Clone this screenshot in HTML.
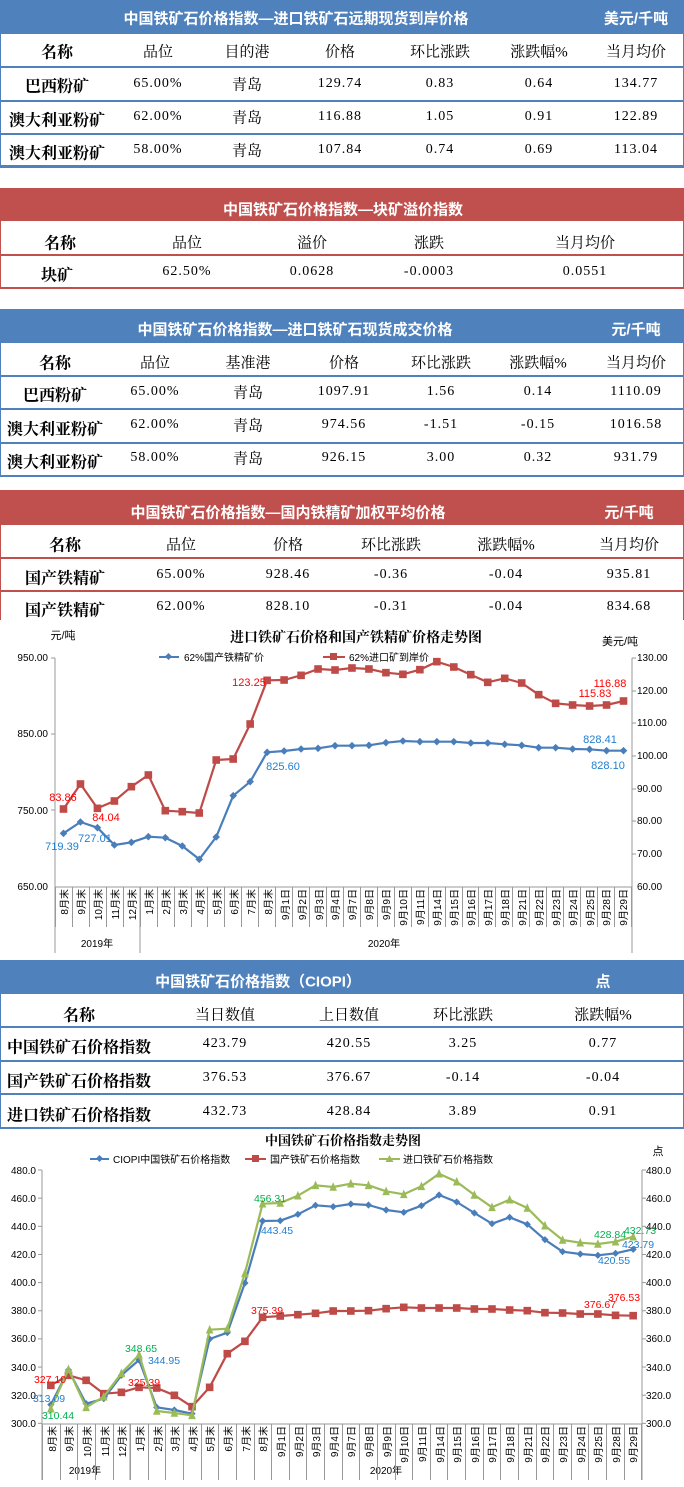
<!DOCTYPE html>
<html><head><meta charset="utf-8">
<style>
*{margin:0;padding:0;box-sizing:border-box}
body{width:684px;height:1487px;position:relative;background:#fff;overflow:hidden;font-family:"Liberation Serif","Noto Serif CJK SC",serif;color:#000}
.a{position:absolute}
.bar{position:absolute;left:0;width:684px}
.blue{background:#4f81bd}.red{background:#c0504d}
.t{position:absolute;transform:translate(-50%,-50%);white-space:nowrap;font-size:15px}
.w{color:#fff;font-weight:bold;font-family:"Liberation Sans","Noto Sans CJK SC",sans-serif;font-size:15px}
.n{font-weight:bold;font-family:"Liberation Serif","Noto Serif CJK SC",serif;font-size:16px}
.h{font-family:"Liberation Serif","Noto Serif CJK SC",serif;font-size:15px}
.d{font-family:"Liberation Serif","Noto Serif CJK SC",serif;font-size:14px;letter-spacing:1px}
.hl{position:absolute;left:0;width:684px}
.vl{position:absolute;width:1px}
.cats{position:absolute;display:flex}
.cats div{flex:1;border-right:1px solid #999;display:flex;justify-content:center;align-items:flex-start}
.cats div:first-child{border-left:1px solid #999}
.cats span{writing-mode:vertical-rl;text-orientation:sideways;transform:rotate(180deg);font-family:"Liberation Sans","Noto Sans CJK SC",sans-serif;font-size:10px;color:#000;padding-bottom:2px}
svg text{font-family:"Liberation Sans","Noto Sans CJK SC",sans-serif}
</style></head><body>

<!-- Table 1 -->
<div class="bar blue" style="top:0;height:34px"></div>
<span class="t w" style="left:296px;top:18px">中国铁矿石价格指数—进口铁矿石远期现货到岸价格</span>
<span class="t w" style="left:636px;top:18px">美元/千吨</span>
<div class="vl" style="left:0;top:34px;height:133px;background:#4f81bd"></div>
<div class="vl" style="left:683px;top:34px;height:133px;background:#4f81bd"></div>
<div class="hl" style="top:66px;height:2px;background:#4f81bd"></div>
<div class="hl" style="top:100px;height:2px;background:#4f81bd"></div>
<div class="hl" style="top:133px;height:2px;background:#4f81bd"></div>
<div class="hl" style="top:165px;height:3px;background:#4f81bd"></div>
<span class="t n" style="left:57px;top:51px">名称</span><span class="t h" style="left:158px;top:51px">品位</span><span class="t h" style="left:247px;top:51px">目的港</span><span class="t h" style="left:340px;top:51px">价格</span><span class="t h" style="left:440px;top:51px">环比涨跌</span><span class="t h" style="left:539px;top:51px">涨跌幅%</span><span class="t h" style="left:636px;top:51px">当月均价</span>
<span class="t n" style="left:57px;top:85px">巴西粉矿</span><span class="t d" style="left:158px;top:84px">65.00%</span><span class="t h" style="left:247px;top:84px">青岛</span><span class="t d" style="left:340px;top:84px">129.74</span><span class="t d" style="left:440px;top:84px">0.83</span><span class="t d" style="left:539px;top:84px">0.64</span><span class="t d" style="left:636px;top:84px">134.77</span>
<span class="t n" style="left:57px;top:119px">澳大利亚粉矿</span><span class="t d" style="left:158px;top:117px">62.00%</span><span class="t h" style="left:247px;top:117px">青岛</span><span class="t d" style="left:340px;top:117px">116.88</span><span class="t d" style="left:440px;top:117px">1.05</span><span class="t d" style="left:539px;top:117px">0.91</span><span class="t d" style="left:636px;top:117px">122.89</span>
<span class="t n" style="left:57px;top:152px">澳大利亚粉矿</span><span class="t d" style="left:158px;top:150px">58.00%</span><span class="t h" style="left:247px;top:150px">青岛</span><span class="t d" style="left:340px;top:150px">107.84</span><span class="t d" style="left:440px;top:150px">0.74</span><span class="t d" style="left:539px;top:150px">0.69</span><span class="t d" style="left:636px;top:150px">113.04</span>

<!-- Table 2 -->
<div class="bar red" style="top:188px;height:33px"></div>
<span class="t w" style="left:343px;top:209px">中国铁矿石价格指数—块矿溢价指数</span>
<div class="vl" style="left:0;top:221px;height:67px;background:#c0504d"></div>
<div class="vl" style="left:683px;top:221px;height:67px;background:#c0504d"></div>
<div class="hl" style="top:254px;height:2px;background:#c0504d"></div>
<div class="hl" style="top:287px;height:2px;background:#c0504d"></div>
<span class="t n" style="left:60px;top:242px">名称</span><span class="t h" style="left:187px;top:242px">品位</span><span class="t h" style="left:312px;top:242px">溢价</span><span class="t h" style="left:429px;top:242px">涨跌</span><span class="t h" style="left:585px;top:242px">当月均价</span>
<span class="t n" style="left:57px;top:274px">块矿</span><span class="t d" style="left:187px;top:272px">62.50%</span><span class="t d" style="left:312px;top:272px">0.0628</span><span class="t d" style="left:429px;top:272px">-0.0003</span><span class="t d" style="left:585px;top:272px">0.0551</span>

<!-- Table 3 -->
<div class="bar blue" style="top:309px;height:34px"></div>
<span class="t w" style="left:295px;top:329px">中国铁矿石价格指数—进口铁矿石现货成交价格</span>
<span class="t w" style="left:636px;top:329px">元/千吨</span>
<div class="vl" style="left:0;top:343px;height:133px;background:#4f81bd"></div>
<div class="vl" style="left:683px;top:343px;height:133px;background:#4f81bd"></div>
<div class="hl" style="top:375px;height:2px;background:#4f81bd"></div>
<div class="hl" style="top:408px;height:2px;background:#4f81bd"></div>
<div class="hl" style="top:442px;height:2px;background:#4f81bd"></div>
<div class="hl" style="top:475px;height:2px;background:#4f81bd"></div>
<span class="t n" style="left:55px;top:362px">名称</span><span class="t h" style="left:155px;top:362px">品位</span><span class="t h" style="left:248px;top:362px">基准港</span><span class="t h" style="left:344px;top:362px">价格</span><span class="t h" style="left:441px;top:362px">环比涨跌</span><span class="t h" style="left:538px;top:362px">涨跌幅%</span><span class="t h" style="left:636px;top:362px">当月均价</span>
<span class="t n" style="left:55px;top:394px">巴西粉矿</span><span class="t d" style="left:155px;top:392px">65.00%</span><span class="t h" style="left:248px;top:392px">青岛</span><span class="t d" style="left:344px;top:392px">1097.91</span><span class="t d" style="left:441px;top:392px">1.56</span><span class="t d" style="left:538px;top:392px">0.14</span><span class="t d" style="left:636px;top:392px">1110.09</span>
<span class="t n" style="left:55px;top:428px">澳大利亚粉矿</span><span class="t d" style="left:155px;top:425px">62.00%</span><span class="t h" style="left:248px;top:425px">青岛</span><span class="t d" style="left:344px;top:425px">974.56</span><span class="t d" style="left:441px;top:425px">-1.51</span><span class="t d" style="left:538px;top:425px">-0.15</span><span class="t d" style="left:636px;top:425px">1016.58</span>
<span class="t n" style="left:55px;top:461px">澳大利亚粉矿</span><span class="t d" style="left:155px;top:458px">58.00%</span><span class="t h" style="left:248px;top:458px">青岛</span><span class="t d" style="left:344px;top:458px">926.15</span><span class="t d" style="left:441px;top:458px">3.00</span><span class="t d" style="left:538px;top:458px">0.32</span><span class="t d" style="left:636px;top:458px">931.79</span>

<!-- Table 4 -->
<div class="bar red" style="top:490px;height:35px"></div>
<span class="t w" style="left:288px;top:512px">中国铁矿石价格指数—国内铁精矿加权平均价格</span>
<span class="t w" style="left:629px;top:512px">元/千吨</span>
<div class="vl" style="left:0;top:525px;height:95px;background:#c0504d"></div>
<div class="vl" style="left:683px;top:525px;height:95px;background:#c0504d"></div>
<div class="hl" style="top:557px;height:2px;background:#c0504d"></div>
<div class="hl" style="top:590px;height:2px;background:#c0504d"></div>
<span class="t n" style="left:65px;top:544px">名称</span><span class="t h" style="left:181px;top:544px">品位</span><span class="t h" style="left:288px;top:544px">价格</span><span class="t h" style="left:391px;top:544px">环比涨跌</span><span class="t h" style="left:506px;top:544px">涨跌幅%</span><span class="t h" style="left:629px;top:544px">当月均价</span>
<span class="t n" style="left:65px;top:577px">国产铁精矿</span><span class="t d" style="left:181px;top:575px">65.00%</span><span class="t d" style="left:288px;top:575px">928.46</span><span class="t d" style="left:391px;top:575px">-0.36</span><span class="t d" style="left:506px;top:575px">-0.04</span><span class="t d" style="left:629px;top:575px">935.81</span>
<span class="t n" style="left:65px;top:609px">国产铁精矿</span><span class="t d" style="left:181px;top:607px">62.00%</span><span class="t d" style="left:288px;top:607px">828.10</span><span class="t d" style="left:391px;top:607px">-0.31</span><span class="t d" style="left:506px;top:607px">-0.04</span><span class="t d" style="left:629px;top:607px">834.68</span>

<!-- Chart 1 -->
<svg class="a" style="left:0;top:620px" width="684" height="335" id="c1">
<text x="356" y="22" text-anchor="middle" font-size="14" font-weight="bold" style="font-family:'Liberation Serif','Noto Serif CJK SC',serif">进口铁矿石价格和国产铁精矿价格走势图</text>
<text x="63" y="19" text-anchor="middle" font-size="11">元/吨</text>
<text x="620" y="25" text-anchor="middle" font-size="11">美元/吨</text>
<line x1="159" y1="37" x2="179" y2="37" stroke="#4a7ebb" stroke-width="2"/><rect x="166" y="34" width="5" height="5" fill="#4a7ebb" transform="rotate(45 168.5 36.5)"/>
<text x="184" y="41" font-size="10">62%国产铁精矿价</text>
<line x1="323" y1="37" x2="345" y2="37" stroke="#be4b48" stroke-width="2"/><rect x="330" y="33" width="7" height="7" fill="#be4b48"/>
<text x="349" y="41" font-size="10">62%进口矿到岸价</text>
<g font-size="10" text-anchor="end">
<text x="48" y="41">950.00</text><text x="48" y="117">850.00</text><text x="48" y="194">750.00</text><text x="48" y="270">650.00</text>
</g>
<g font-size="10">
<text x="637" y="41">130.00</text><text x="637" y="74">120.00</text><text x="637" y="106">110.00</text><text x="637" y="139">100.00</text><text x="637" y="172">90.00</text><text x="637" y="204">80.00</text><text x="637" y="237">70.00</text><text x="637" y="270">60.00</text>
</g>
<g stroke="#999" stroke-width="1">
<line x1="55" y1="38" x2="55" y2="267"/><line x1="632" y1="38" x2="632" y2="267"/><line x1="55" y1="267" x2="632" y2="267"/>
<line x1="51" y1="38" x2="55" y2="38"/><line x1="51" y1="114" x2="55" y2="114"/><line x1="51" y1="190" x2="55" y2="190"/>
<line x1="632" y1="38" x2="636" y2="38"/><line x1="632" y1="71" x2="636" y2="71"/><line x1="632" y1="103" x2="636" y2="103"/><line x1="632" y1="136" x2="636" y2="136"/><line x1="632" y1="169" x2="636" y2="169"/><line x1="632" y1="201" x2="636" y2="201"/><line x1="632" y1="234" x2="636" y2="234"/>
<line x1="55" y1="267" x2="55" y2="333"/><line x1="140" y1="267" x2="140" y2="333"/><line x1="632" y1="267" x2="632" y2="333"/>
</g>
<g id="c1s"></g>
<text x="97" y="327" text-anchor="middle" font-size="10">2019年</text>
<text x="384" y="327" text-anchor="middle" font-size="10">2020年</text>
<g font-size="11" text-anchor="middle">
<text x="63" y="181" fill="#ff0000">83.86</text><text x="106" y="201" fill="#ff0000">84.04</text><text x="249" y="66" fill="#ff0000">123.25</text><text x="610" y="67" fill="#ff0000">116.88</text><text x="595" y="77" fill="#ff0000">115.83</text>
<text x="62" y="230" fill="#1f7fd0">719.39</text><text x="95" y="222" fill="#1f7fd0">727.01</text><text x="283" y="150" fill="#1f7fd0">825.60</text><text x="600" y="123" fill="#1f7fd0">828.41</text><text x="608" y="149" fill="#1f7fd0">828.10</text>
</g>
</svg>
<div class="cats" style="left:55px;top:887px;width:577px;height:40px">
<div><span>8月末</span></div><div><span>9月末</span></div><div><span>10月末</span></div><div><span>11月末</span></div><div><span>12月末</span></div><div><span>1月末</span></div><div><span>2月末</span></div><div><span>3月末</span></div><div><span>4月末</span></div><div><span>5月末</span></div><div><span>6月末</span></div><div><span>7月末</span></div><div><span>8月末</span></div><div><span>9月1日</span></div><div><span>9月2日</span></div><div><span>9月3日</span></div><div><span>9月4日</span></div><div><span>9月7日</span></div><div><span>9月8日</span></div><div><span>9月9日</span></div><div><span>9月10日</span></div><div><span>9月11日</span></div><div><span>9月14日</span></div><div><span>9月15日</span></div><div><span>9月16日</span></div><div><span>9月17日</span></div><div><span>9月18日</span></div><div><span>9月21日</span></div><div><span>9月22日</span></div><div><span>9月23日</span></div><div><span>9月24日</span></div><div><span>9月25日</span></div><div><span>9月28日</span></div><div><span>9月29日</span></div>
</div>

<!-- Table 5 -->
<div class="bar blue" style="top:960px;height:34px"></div>
<span class="t w" style="left:258px;top:981px">中国铁矿石价格指数（CIOPI）</span>
<span class="t w" style="left:603px;top:981px">点</span>
<div class="vl" style="left:0;top:994px;height:134px;background:#4f81bd"></div>
<div class="vl" style="left:683px;top:994px;height:134px;background:#4f81bd"></div>
<div class="hl" style="top:1026px;height:2px;background:#4f81bd"></div>
<div class="hl" style="top:1060px;height:2px;background:#4f81bd"></div>
<div class="hl" style="top:1093px;height:2px;background:#4f81bd"></div>
<div class="hl" style="top:1127px;height:2px;background:#4f81bd"></div>
<span class="t n" style="left:79px;top:1014px">名称</span><span class="t h" style="left:225px;top:1014px">当日数值</span><span class="t h" style="left:349px;top:1014px">上日数值</span><span class="t h" style="left:463px;top:1014px">环比涨跌</span><span class="t h" style="left:603px;top:1014px">涨跌幅%</span>
<span class="t n" style="left:79px;top:1046px">中国铁矿石价格指数</span><span class="t d" style="left:225px;top:1044px">423.79</span><span class="t d" style="left:349px;top:1044px">420.55</span><span class="t d" style="left:463px;top:1044px">3.25</span><span class="t d" style="left:603px;top:1044px">0.77</span>
<span class="t n" style="left:79px;top:1080px">国产铁矿石价格指数</span><span class="t d" style="left:225px;top:1078px">376.53</span><span class="t d" style="left:349px;top:1078px">376.67</span><span class="t d" style="left:463px;top:1078px">-0.14</span><span class="t d" style="left:603px;top:1078px">-0.04</span>
<span class="t n" style="left:79px;top:1114px">进口铁矿石价格指数</span><span class="t d" style="left:225px;top:1112px">432.73</span><span class="t d" style="left:349px;top:1112px">428.84</span><span class="t d" style="left:463px;top:1112px">3.89</span><span class="t d" style="left:603px;top:1112px">0.91</span>

<!-- Chart 2 -->
<svg class="a" style="left:0;top:1128px" width="684" height="359" id="c2">
<text x="343" y="17" text-anchor="middle" font-size="13" font-weight="bold" style="font-family:'Liberation Serif','Noto Serif CJK SC',serif">中国铁矿石价格指数走势图</text>
<text x="658" y="27" text-anchor="middle" font-size="11">点</text>
<line x1="90" y1="31" x2="109" y2="31" stroke="#4a7ebb" stroke-width="2"/><rect x="97" y="28" width="5" height="5" fill="#4a7ebb" transform="rotate(45 99.5 30.5)"/>
<text x="113" y="35" font-size="10">CIOPI中国铁矿石价格指数</text>
<line x1="245" y1="31" x2="266" y2="31" stroke="#be4b48" stroke-width="2"/><rect x="252" y="27" width="7" height="7" fill="#be4b48"/>
<text x="270" y="35" font-size="10">国产铁矿石价格指数</text>
<line x1="379" y1="31" x2="400" y2="31" stroke="#9bbb59" stroke-width="2"/><polygon points="389.5,27 393.5,34 385.5,34" fill="#9bbb59"/>
<text x="403" y="35" font-size="10">进口铁矿石价格指数</text>
<g font-size="10" text-anchor="end">
<text x="36" y="46">480.0</text><text x="36" y="74">460.0</text><text x="36" y="102">440.0</text><text x="36" y="130">420.0</text><text x="36" y="158">400.0</text><text x="36" y="186">380.0</text><text x="36" y="214">360.0</text><text x="36" y="243">340.0</text><text x="36" y="271">320.0</text><text x="36" y="299">300.0</text>
</g>
<g font-size="10">
<text x="646" y="46">480.0</text><text x="646" y="74">460.0</text><text x="646" y="102">440.0</text><text x="646" y="130">420.0</text><text x="646" y="158">400.0</text><text x="646" y="186">380.0</text><text x="646" y="214">360.0</text><text x="646" y="243">340.0</text><text x="646" y="271">320.0</text><text x="646" y="299">300.0</text>
</g>
<g stroke="#999" stroke-width="1" id="ax2">
<line x1="42" y1="42" x2="42" y2="296"/><line x1="642" y1="42" x2="642" y2="296"/><line x1="42" y1="296" x2="642" y2="296"/>
<line x1="42" y1="296" x2="42" y2="352"/><line x1="130" y1="296" x2="130" y2="352"/><line x1="642" y1="296" x2="642" y2="352"/>
</g>
<g id="c2s"></g>
<text x="85" y="346" text-anchor="middle" font-size="10">2019年</text>
<text x="386" y="346" text-anchor="middle" font-size="10">2020年</text>
<g font-size="10.5" text-anchor="middle">
<text x="50" y="255" fill="#ff0000">327.10</text><text x="49" y="274" fill="#1f7fd0">313.09</text><text x="58" y="291" fill="#00b050">310.44</text>
<text x="141" y="224" fill="#00b050">348.65</text><text x="164" y="236" fill="#1f7fd0">344.95</text><text x="144" y="258" fill="#ff0000">325.39</text>
<text x="270" y="74" fill="#00b050">456.31</text><text x="277" y="106" fill="#1f7fd0">443.45</text><text x="267" y="186" fill="#ff0000">375.39</text>
<text x="610" y="110" fill="#00b050">428.84</text><text x="640" y="106" fill="#00b050">432.73</text><text x="638" y="120" fill="#1f7fd0">423.79</text><text x="614" y="136" fill="#1f7fd0">420.55</text><text x="600" y="180" fill="#ff0000">376.67</text><text x="624" y="173" fill="#ff0000">376.53</text>
</g>
</svg>
<div class="cats" style="left:42px;top:1424px;width:600px;height:56px">
<div><span>8月末</span></div><div><span>9月末</span></div><div><span>10月末</span></div><div><span>11月末</span></div><div><span>12月末</span></div><div><span>1月末</span></div><div><span>2月末</span></div><div><span>3月末</span></div><div><span>4月末</span></div><div><span>5月末</span></div><div><span>6月末</span></div><div><span>7月末</span></div><div><span>8月末</span></div><div><span>9月1日</span></div><div><span>9月2日</span></div><div><span>9月3日</span></div><div><span>9月4日</span></div><div><span>9月7日</span></div><div><span>9月8日</span></div><div><span>9月9日</span></div><div><span>9月10日</span></div><div><span>9月11日</span></div><div><span>9月14日</span></div><div><span>9月15日</span></div><div><span>9月16日</span></div><div><span>9月17日</span></div><div><span>9月18日</span></div><div><span>9月21日</span></div><div><span>9月22日</span></div><div><span>9月23日</span></div><div><span>9月24日</span></div><div><span>9月25日</span></div><div><span>9月28日</span></div><div><span>9月29日</span></div>
</div>

<script>
(function(){
var NS="http://www.w3.org/2000/svg";
function el(t,a){var e=document.createElementNS(NS,t);for(var k in a)e.setAttribute(k,a[k]);return e;}
function series(g,x0,dx,ys,color,shape,sz){
  var pts=ys.map(function(y,i){return [x0+dx*(i+0.5),y/3];});
  g.appendChild(el("polyline",{points:pts.map(function(p){return p[0].toFixed(1)+","+p[1].toFixed(1)}).join(" "),fill:"none",stroke:color,"stroke-width":2.2,"stroke-linejoin":"round"}));
  pts.forEach(function(p){
    var x=p[0],y=p[1];
    if(shape==="d")g.appendChild(el("polygon",{points:(x)+","+(y-sz)+" "+(x+sz)+","+y+" "+x+","+(y+sz)+" "+(x-sz)+","+y,fill:color}));
    else if(shape==="s")g.appendChild(el("rect",{x:x-sz,y:y-sz,width:2*sz,height:2*sz,fill:color}));
    else g.appendChild(el("polygon",{points:x+","+(y-sz-1)+" "+(x+sz)+","+(y+sz)+" "+(x-sz)+","+(y+sz),fill:color}));
  });
}
var b1=[640,606,623,675,667,650,653,678,718,651,527,485,397,393,387,385,377,377,376,368,363,365,365,365,369,369,373,376,383,383,387,388,392,392];
var r1=[567,492,565,543,500,465,572,575,579,420,417,312,181,180,166,147,150,144,147,158,163,149,125,141,164,187,175,189,224,250,255,258,255,243];
var g1=document.getElementById("c1s");
series(g1,55,577/34,r1,"#be4b48","s",3.8);
series(g1,55,577/34,b1,"#4a7ebb","d",3.8);
var b2=[830,726,827,812,742,696,838,846,857,633,614,465,279,278,259,232,236,228,231,246,253,233,201,222,255,287,268,289,335,371,378,382,376,364];
var gr2=[842,724,838,806,736,680,849,855,862,605,602,436,227,225,203,172,177,167,172,190,199,175,137,161,201,238,215,240,293,336,344,348,341,326];
var r2=[772,742,757,797,793,778,780,802,836,778,677,640,568,564,560,556,549,549,548,542,538,540,540,540,543,543,546,548,554,555,558,558,562,563];
var g2=document.getElementById("c2s");
series(g2,42,600/34,r2,"#be4b48","s",3.8);
series(g2,42,600/34,b2,"#4a7ebb","d",3.6);
series(g2,42,600/34,gr2,"#9bbb59","t",3.8);
var ax=document.getElementById("ax2");
for(var v=0;v<10;v++){var y=42+v*28.15;ax.appendChild(el("line",{x1:38,y1:y,x2:42,y2:y}));ax.appendChild(el("line",{x1:642,y1:y,x2:646,y2:y}));}
})();
</script>
</body></html>
